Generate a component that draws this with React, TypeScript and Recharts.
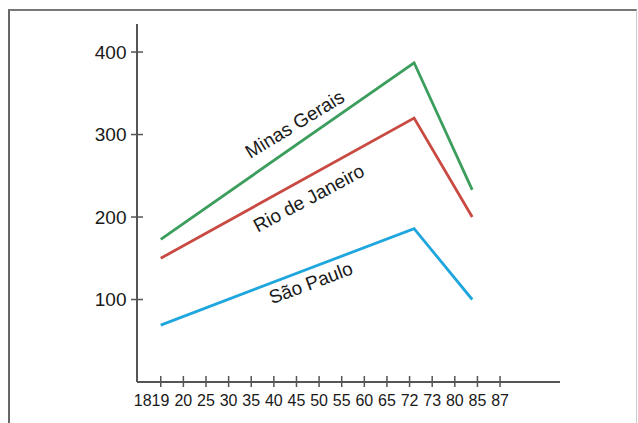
import React from 'react'
import {
    LineChart,
    Line,
    XAxis,
    YAxis,
    ReferenceDot,
} from 'recharts';

// axis slots: every tick is one slot, years are printed without the century
const centuryPrefix = '18';
const tickLabels = ['19', '20', '25', '30', '35', '40', '45', '50', '55', '60', '65', '72', '73', '80', '85', '87'];
const yTicks = [100, 200, 300, 400];

// where the three samples sit on the axis (in slots)
const samplePositions = [0, 11.2, 13.77];

const minasGerais = [173, 387, 233];
const rioDeJaneiro = [150, 320, 200];
const saoPaulo = [69, 186, 100];

const seriesNames = ['Minas Gerais', 'Rio de Janeiro', 'São Paulo'];

const FONT = '"Liberation Sans", Arial, Helvetica, sans-serif';
const AXIS = '#555';
const TEXT = '#1a1a1a';

const data = samplePositions.map((slot, i) => ({
    slot,
    minas: minasGerais[i],
    rio: rioDeJaneiro[i],
    sao: saoPaulo[i],
}));

const series = [
    { key: 'minas', values: minasGerais, name: seriesNames[0], color: '#3c9e5d', t: 0.542, dy: -13.8, angle: -31.5 },
    { key: 'rio', values: rioDeJaneiro, name: seriesNames[1], color: '#c94a42', t: 0.596, dy: 29.2, angle: -28 },
    { key: 'sao', values: saoPaulo, name: seriesNames[2], color: '#1ea6dd', t: 0.601, dy: 21.9, angle: -20.5 },
];

const XTick = (props: any) => {
    const { x, y, payload, index } = props;
    const label = tickLabels[payload.value] ?? '';
    return (
        <g>
            <line x1={x} x2={x} y1={y - 6} y2={y + 5} stroke={AXIS} strokeWidth={1.5} />
            {index === 0 ? (
                <text x={x + 8.6} y={y + 23.5} textAnchor="end" fontSize={16} fill={TEXT} fontFamily={FONT}>
                    {centuryPrefix + label}
                </text>
            ) : (
                <text x={x} y={y + 23.5} textAnchor="middle" fontSize={16} fill={TEXT} fontFamily={FONT}>
                    {label}
                </text>
            )}
        </g>
    );
};

const YTick = (props: any) => {
    const { x, y, payload } = props;
    return (
        <g>
            <line x1={x - 6} x2={x + 6} y1={y} y2={y} stroke={AXIS} strokeWidth={1.5} />
            <text x={x - 10.5} y={y + 6.8} textAnchor="end" fontSize={19} fill={TEXT} fontFamily={FONT}>
                {payload.value}
            </text>
        </g>
    );
};

const App = () => {
    return (
        <div style={{ position: 'absolute', left: 0, top: 0, width: 638, height: 423, overflow: 'hidden', background: '#fff' }}>
            <div
                style={{
                    position: 'absolute',
                    left: 8,
                    top: 9,
                    width: 626,
                    height: 440,
                    borderLeft: '2px solid #666',
                    borderTop: '2px solid #777',
                    borderRight: '1px solid #ccc',
                }}
            />
            <div style={{ position: 'absolute', left: 0, top: 0 }}>
                <LineChart width={638} height={423} data={data} margin={{ top: 24, right: 78, bottom: 0, left: 0 }}>
                    <XAxis
                        dataKey="slot"
                        type="number"
                        domain={[-1.05, 17.65]}
                        ticks={tickLabels.map((_, i) => i)}
                        allowDataOverflow
                        height={41}
                        tickSize={0}
                        tickMargin={0}
                        tickLine={false}
                        axisLine={{ stroke: AXIS, strokeWidth: 2 }}
                        tick={<XTick />}
                        interval={0}
                    />
                    <YAxis
                        type="number"
                        domain={[0, 434]}
                        ticks={yTicks}
                        allowDataOverflow
                        width={137}
                        tickSize={0}
                        tickMargin={0}
                        tickLine={false}
                        axisLine={{ stroke: AXIS, strokeWidth: 2 }}
                        tick={<YTick />}
                        interval={0}
                    />
                    {series.map((s) => (
                        <Line
                            key={s.key}
                            type="linear"
                            dataKey={s.key}
                            stroke={s.color}
                            strokeWidth={2.8}
                            dot={false}
                            activeDot={false}
                            isAnimationActive={false}
                        />
                    ))}
                    {series.map((s) => {
                        // anchor the name on the rising segment of its own line
                        const ax = samplePositions[0] + (samplePositions[1] - samplePositions[0]) * s.t;
                        const ay = s.values[0] + (s.values[1] - s.values[0]) * s.t;
                        return (
                            <ReferenceDot
                                key={'label-' + s.key}
                                x={ax}
                                y={ay}
                                r={1}
                                ifOverflow="visible"
                                shape={(p: any) => (
                                    <text
                                        x={p.cx}
                                        y={p.cy + s.dy}
                                        textAnchor="middle"
                                        fontSize={19}
                                        fill={TEXT}
                                        fontFamily={FONT}
                                        transform={`rotate(${s.angle}, ${p.cx}, ${p.cy + s.dy})`}
                                    >
                                        {s.name}
                                    </text>
                                )}
                            />
                        );
                    })}
                </LineChart>
            </div>
        </div>
    )
}

export default App
